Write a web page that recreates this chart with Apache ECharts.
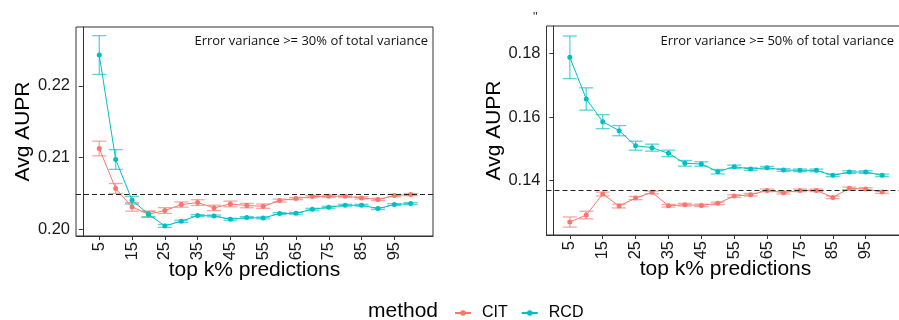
<!DOCTYPE html>
<html>
<head>
<meta charset="utf-8">
<script src="https://cdn.jsdelivr.net/npm/echarts@6/dist/echarts.min.js"></script>
<style>
  html, body { margin: 0; padding: 0; background: #fff; overflow: hidden; }
  #chart { width: 910px; height: 320px; }
</style>
</head>
<body>
<div id="chart"></div>
<script>
// top k% of predictions kept
const kPct = [5, 10, 15, 20, 25, 30, 35, 40, 45, 50, 55, 60, 65, 70, 75, 80, 85, 90, 95, 100];
const xTicks = [5, 15, 25, 35, 45, 55, 65, 75, 85, 95];

// left panel: error variance >= 30%
const leftCit = [0.21128, 0.20571, 0.20316, 0.20214, 0.20265, 0.20348, 0.20376, 0.20302, 0.20357, 0.20334,
  0.20325, 0.20404, 0.20432, 0.20460, 0.20464, 0.20464, 0.20441, 0.20418, 0.20474, 0.20487];
const leftCitErr = [0.00102, 0.0007, 0.0006, 0.00046, 0.0004, 0.00037, 0.0004, 0.00037, 0.0004, 0.0003,
  0.0003, 0.0002, 0.00015, 0.00015, 0.00015, 0.00015, 0.00015, 0.00015, 0.00015, 0.00015];
const leftRcd = [0.22428, 0.20975, 0.20409, 0.20214, 0.20051, 0.20116, 0.20195, 0.20190, 0.20144, 0.20167,
  0.20162, 0.20223, 0.20227, 0.20283, 0.20311, 0.20339, 0.20339, 0.20292, 0.20348, 0.20362];
const leftRcdErr = [0.0027, 0.00137, 0.00053, 0.00035, 0.0002, 0.00015, 0.00013, 0.00013, 0.00013, 0.00013,
  0.00013, 0.00013, 0.00013, 0.00013, 0.00013, 0.00013, 0.00013, 0.00013, 0.00013, 0.00013];
const leftBaseline = 0.20492;
const leftYTicks = [0.20, 0.21, 0.22];

// right panel: error variance >= 50%
const rightCit = [0.12702, 0.12921, 0.13581, 0.13204, 0.13455, 0.13634, 0.13215, 0.13246, 0.13225, 0.13288,
  0.13518, 0.13560, 0.13696, 0.13623, 0.13696, 0.13696, 0.13476, 0.13759, 0.13738, 0.13644];
const rightCitErr = [0.0016, 0.0012, 0.0006, 0.0006, 0.0005, 0.0004, 0.0004, 0.0004, 0.0004, 0.0004,
  0.0004, 0.0004, 0.0004, 0.0004, 0.0004, 0.0004, 0.0004, 0.0004, 0.0004, 0.0004];
const rightRcd = [0.17874, 0.16565, 0.15853, 0.15571, 0.15099, 0.15037, 0.14859, 0.14545, 0.14524, 0.14283,
  0.14440, 0.14366, 0.14408, 0.14335, 0.14325, 0.14325, 0.14168, 0.14272, 0.14272, 0.14168];
const rightRcdErr = [0.0067, 0.0035, 0.0022, 0.0016, 0.0014, 0.0011, 0.001, 0.0009, 0.0007, 0.0007,
  0.0005, 0.0004, 0.0004, 0.0004, 0.0004, 0.0004, 0.0004, 0.0004, 0.0004, 0.0004];
const rightBaseline = 0.13708;
const rightYTicks = [0.14, 0.16, 0.18];

const CIT_COLOR = '#F8766D';
const RCD_COLOR = '#00BFC4';
const SANS = 'Liberation Sans';

const chart = echarts.init(document.getElementById('chart'), null, { renderer: 'canvas' });

function xAxisFor(gridIndex) {
  return {
    type: 'value',
    gridIndex,
    min: -2.1,
    max: 106.8,
    axisLine: { show: true, lineStyle: { color: '#333', width: 1 } },
    axisTick: { show: true, customValues: xTicks, length: 4, lineStyle: { color: '#333' } },
    axisLabel: { customValues: xTicks, rotate: 90, fontSize: 16.5, color: '#1a1a1a', fontFamily: SANS, margin: 6 },
    splitLine: { show: false },
    name: 'top k% predictions',
    nameLocation: 'middle',
    nameGap: 24,
    nameMoveOverlap: false,
    nameTextStyle: { fontSize: 21, color: '#000', fontFamily: SANS },
  };
}

function yAxisFor(gridIndex, min, max, ticks) {
  return {
    type: 'value',
    gridIndex,
    min,
    max,
    axisLine: { show: true, lineStyle: { color: '#333', width: 1 } },
    axisTick: { show: true, customValues: ticks, length: 4, lineStyle: { color: '#333' } },
    axisLabel: {
      customValues: ticks,
      formatter: (v) => v.toFixed(2),
      fontSize: 16.5,
      color: '#1a1a1a',
      fontFamily: SANS,
      margin: 6,
    },
    splitLine: { show: false },
    name: 'Avg AUPR',
    nameLocation: 'middle',
    nameGap: 42,
    nameMoveOverlap: false,
    nameTextStyle: { fontSize: 21, color: '#000', fontFamily: SANS },
  };
}

function errorBars(name, axisIndex, means, errs, color) {
  return {
    type: 'custom',
    name: name + ' error',
    xAxisIndex: axisIndex,
    yAxisIndex: axisIndex,
    silent: true,
    z: 1,
    itemStyle: { color },
    data: kPct.map((k, i) => [k, means[i] - errs[i], means[i] + errs[i]]),
    encode: { x: 0, y: [1, 2] },
    renderItem: (params, api) => {
      const top = api.coord([api.value(0), api.value(2)]);
      const bot = api.coord([api.value(0), api.value(1)]);
      const half = 7;
      const style = { stroke: color, lineWidth: 1.3 };
      return {
        type: 'group',
        children: [
          { type: 'line', shape: { x1: top[0], y1: top[1], x2: bot[0], y2: bot[1] }, style },
          { type: 'line', shape: { x1: top[0] - half, y1: top[1], x2: top[0] + half, y2: top[1] }, style },
          { type: 'line', shape: { x1: bot[0] - half, y1: bot[1], x2: bot[0] + half, y2: bot[1] }, style },
        ],
      };
    },
  };
}

function meanLine(name, axisIndex, means, color, baseline) {
  const s = {
    type: 'line',
    name,
    xAxisIndex: axisIndex,
    yAxisIndex: axisIndex,
    z: 3,
    data: kPct.map((k, i) => [k, means[i]]),
    symbol: 'circle',
    symbolSize: 5,
    itemStyle: { color },
    lineStyle: { color, width: 1 },
  };
  if (baseline !== undefined) {
    s.markLine = {
      silent: true,
      symbol: 'none',
      precision: 6,
      label: { show: false },
      lineStyle: { color: '#222', width: 1, type: [5, 3] },
      data: [{ yAxis: baseline }],
    };
  }
  return s;
}

const option = {
  animation: false,
  grid: [
    { left: 76, top: 27, width: 357, height: 209, show: true, borderColor: '#333', borderWidth: 1 },
    { left: 546.5, top: 26, width: 358, height: 209, show: true, borderColor: '#333', borderWidth: 1 },
  ],
  xAxis: [xAxisFor(0), xAxisFor(1)],
  yAxis: [
    yAxisFor(0, 0.19911, 0.22818, leftYTicks),
    yAxisFor(1, 0.12295, 0.18857, rightYTicks),
  ],
  legend: {
    data: ['CIT', 'RCD'],
    left: 449,
    top: 300,
    itemWidth: 16,
    itemHeight: 7,
    itemGap: 13,
    textStyle: { fontSize: 16, color: '#000', fontFamily: SANS, padding: [0, 0, 0, 6] },
  },
  graphic: [
    { type: 'text', left: 368, top: 301, style: { text: 'method', fontSize: 21, fill: '#000', fontFamily: SANS } },
    { type: 'text', right: 910 - 428, top: 35, style: { text: 'Error variance >= 30% of total variance', fontSize: 13, fill: '#111', fontFamily: 'Open Sans' } },
    { type: 'text', right: 910 - 894, top: 35, style: { text: 'Error variance >= 50% of total variance', fontSize: 13, fill: '#111', fontFamily: 'Open Sans' } },
    { type: 'text', left: 533, top: 11, style: { text: '"', fontSize: 13, fill: '#333', fontFamily: SANS } },
  ],
  series: [
    errorBars('CIT', 0, leftCit, leftCitErr, 'rgba(248,118,109,0.65)'),
    errorBars('RCD', 0, leftRcd, leftRcdErr, 'rgba(0,191,196,0.65)'),
    meanLine('CIT', 0, leftCit, CIT_COLOR, leftBaseline),
    meanLine('RCD', 0, leftRcd, RCD_COLOR),
    errorBars('CIT', 1, rightCit, rightCitErr, 'rgba(248,118,109,0.65)'),
    errorBars('RCD', 1, rightRcd, rightRcdErr, 'rgba(0,191,196,0.65)'),
    meanLine('CIT', 1, rightCit, CIT_COLOR, rightBaseline),
    meanLine('RCD', 1, rightRcd, RCD_COLOR),
  ],
};

chart.setOption(option);
</script>
</body>
</html>
